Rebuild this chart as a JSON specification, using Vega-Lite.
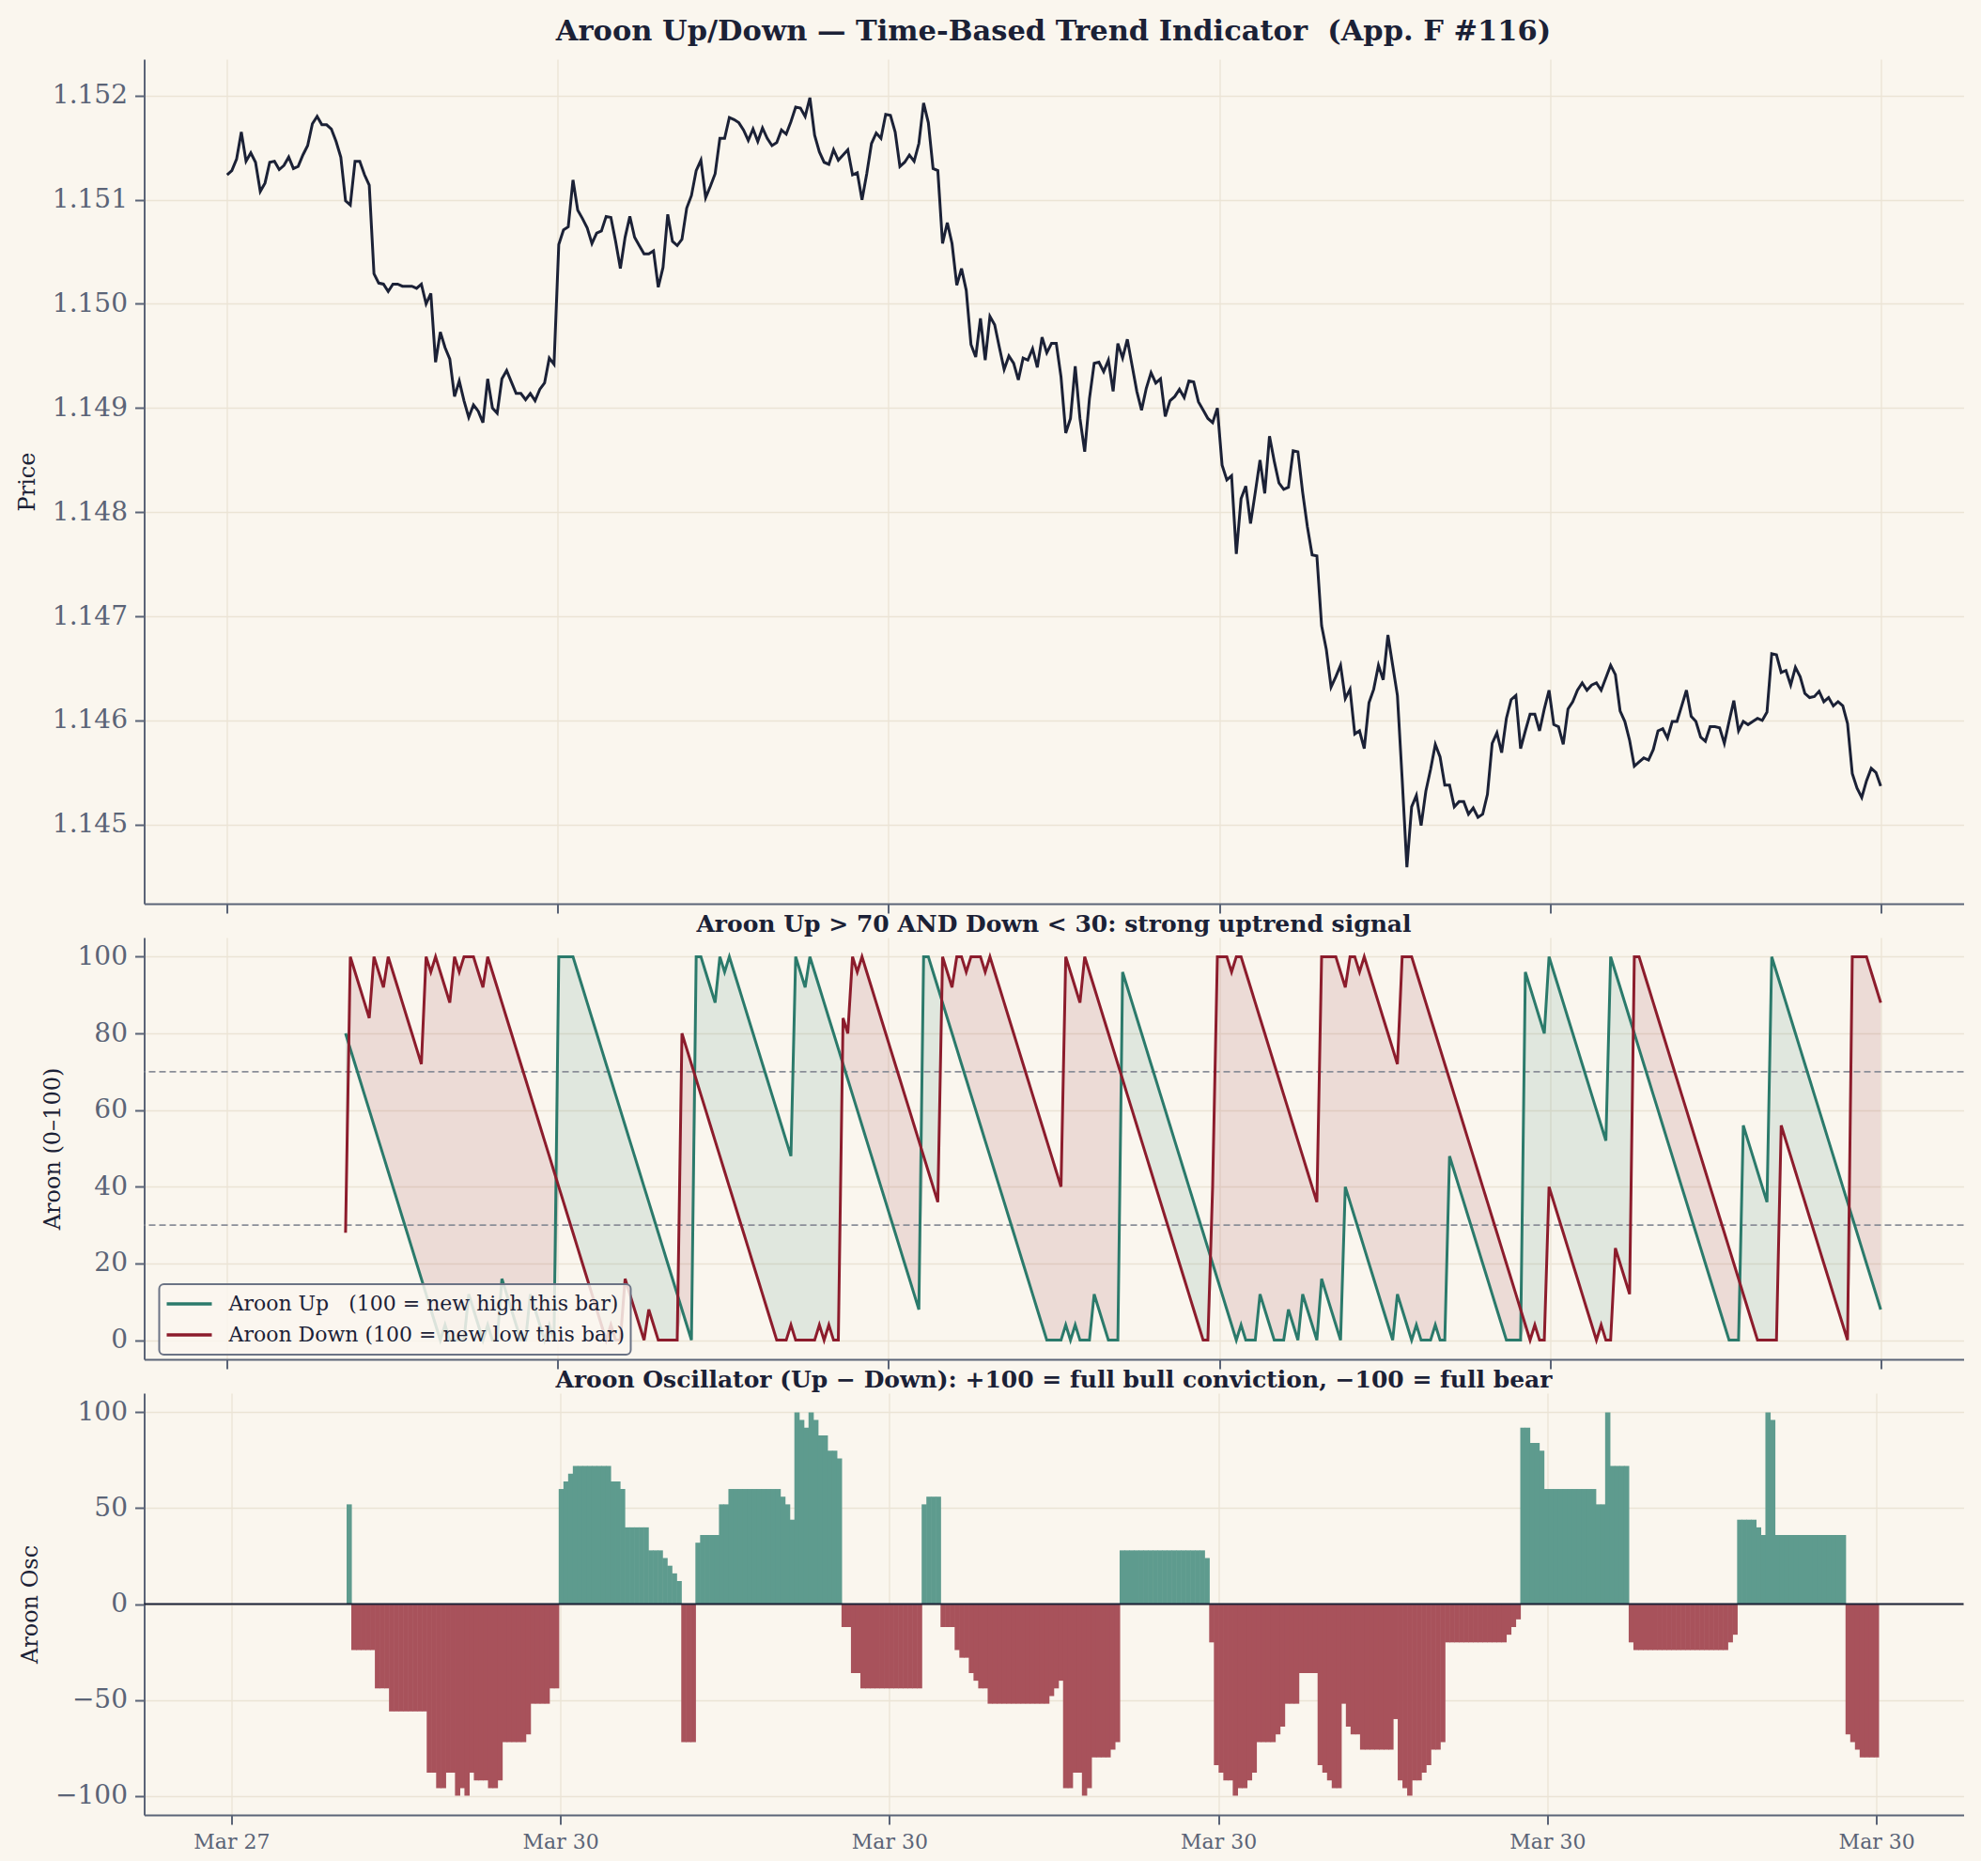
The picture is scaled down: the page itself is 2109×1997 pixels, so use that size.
{
"$schema": "https://vega.github.io/schema/vega-lite/v6.json",
"background": "#faf6ee",
"padding": {"left": 16.5, "right": 19, "top": 18, "bottom": 10},
"title": {"text": "Aroon Up/Down — Time-Based Trend Indicator\u00a0\u00a0(App. F #116)", "font": "DejaVu Serif", "fontSize": 30.5, "fontWeight": "bold", "color": "#1b2136", "anchor": "middle", "offset": 14, "dx": 67},
"config": {
  "font": "DejaVu Serif",
  "view": {"stroke": null},
  "axis": {"domainColor": "#5b6477", "domainWidth": 2, "tickColor": "#5b6477", "tickWidth": 2, "tickSize": 10, "gridColor": "#ebe4d5", "gridWidth": 1.3, "labelColor": "#5b6477", "labelFont": "DejaVu Serif", "titleFont": "DejaVu Serif", "titleColor": "#1b2136", "titleFontWeight": "normal", "titleFontSize": 24},
  "axisY": {"labelFontSize": 28, "labelPadding": 8, "titlePadding": 14},
  "axisX": {"labelFontSize": 22, "labelPadding": 8}
},
"datasets": {"d": [
{"i":0,"p":1.15124},{"i":1,"p":1.15128},{"i":2,"p":1.15139},{"i":3,"p":1.15165},{"i":4,"p":1.15137},{"i":5,"p":1.15145},{"i":6,"p":1.15136},{"i":7,"p":1.15108},{"i":8,"p":1.15116},{"i":9,"p":1.15136},
{"i":10,"p":1.15137},{"i":11,"p":1.15129},{"i":12,"p":1.15133},{"i":13,"p":1.15141},{"i":14,"p":1.15130},{"i":15,"p":1.15132},{"i":16,"p":1.15143},{"i":17,"p":1.15152},{"i":18,"p":1.15173},{"i":19,"p":1.15180},
{"i":20,"p":1.15172},{"i":21,"p":1.15172},{"i":22,"p":1.15168},{"i":23,"p":1.15156},{"i":24,"p":1.15141},
{"i":25,"p":1.15099,"u":80,"d":28,"o":52,"m":28},
{"i":26,"p":1.15095,"u":76,"d":100,"o":-24,"m":76},
{"i":27,"p":1.15137,"u":72,"d":96,"o":-24,"m":72},
{"i":28,"p":1.15137,"u":68,"d":92,"o":-24,"m":68},
{"i":29,"p":1.15124,"u":64,"d":88,"o":-24,"m":64},
{"i":30,"p":1.15114,"u":60,"d":84,"o":-24,"m":60},
{"i":31,"p":1.15029,"u":56,"d":100,"o":-44,"m":56},
{"i":32,"p":1.15020,"u":52,"d":96,"o":-44,"m":52},
{"i":33,"p":1.15019,"u":48,"d":92,"o":-44,"m":48},
{"i":34,"p":1.15012,"u":44,"d":100,"o":-56,"m":44},
{"i":35,"p":1.15019,"u":40,"d":96,"o":-56,"m":40},
{"i":36,"p":1.15019,"u":36,"d":92,"o":-56,"m":36},
{"i":37,"p":1.15017,"u":32,"d":88,"o":-56,"m":32},
{"i":38,"p":1.15017,"u":28,"d":84,"o":-56,"m":28},
{"i":39,"p":1.15017,"u":24,"d":80,"o":-56,"m":24},
{"i":40,"p":1.15015,"u":20,"d":76,"o":-56,"m":20},
{"i":41,"p":1.15019,"u":16,"d":72,"o":-56,"m":16},
{"i":42,"p":1.15000,"u":12,"d":100,"o":-88,"m":12},
{"i":43,"p":1.15010,"u":8,"d":96,"o":-88,"m":8},
{"i":44,"p":1.14944,"u":4,"d":100,"o":-96,"m":4},
{"i":45,"p":1.14973,"u":0,"d":96,"o":-96,"m":0},
{"i":46,"p":1.14958,"u":4,"d":92,"o":-88,"m":4},
{"i":47,"p":1.14947,"u":0,"d":88,"o":-88,"m":0},
{"i":48,"p":1.14911,"u":0,"d":100,"o":-100,"m":0},
{"i":49,"p":1.14926,"u":0,"d":96,"o":-96,"m":0},
{"i":50,"p":1.14907,"u":0,"d":100,"o":-100,"m":0},
{"i":51,"p":1.14891,"u":12,"d":100,"o":-88,"m":12},
{"i":52,"p":1.14903,"u":8,"d":100,"o":-92,"m":8},
{"i":53,"p":1.14897,"u":4,"d":96,"o":-92,"m":4},
{"i":54,"p":1.14886,"u":0,"d":92,"o":-92,"m":0},
{"i":55,"p":1.14928,"u":4,"d":100,"o":-96,"m":4},
{"i":56,"p":1.14900,"u":0,"d":96,"o":-96,"m":0},
{"i":57,"p":1.14895,"u":0,"d":92,"o":-92,"m":0},
{"i":58,"p":1.14928,"u":16,"d":88,"o":-72,"m":16},
{"i":59,"p":1.14936,"u":12,"d":84,"o":-72,"m":12},
{"i":60,"p":1.14925,"u":8,"d":80,"o":-72,"m":8},
{"i":61,"p":1.14914,"u":4,"d":76,"o":-72,"m":4},
{"i":62,"p":1.14914,"u":0,"d":72,"o":-72,"m":0},
{"i":63,"p":1.14908,"u":0,"d":68,"o":-68,"m":0},
{"i":64,"p":1.14914,"u":12,"d":64,"o":-52,"m":12},
{"i":65,"p":1.14907,"u":8,"d":60,"o":-52,"m":8},
{"i":66,"p":1.14918,"u":4,"d":56,"o":-52,"m":4},
{"i":67,"p":1.14924,"u":0,"d":52,"o":-52,"m":0},
{"i":68,"p":1.14948,"u":4,"d":48,"o":-44,"m":4},
{"i":69,"p":1.14942,"u":0,"d":44,"o":-44,"m":0},
{"i":70,"p":1.15057,"u":100,"d":40,"o":60,"m":40},
{"i":71,"p":1.15071,"u":100,"d":36,"o":64,"m":36},
{"i":72,"p":1.15074,"u":100,"d":32,"o":68,"m":32},
{"i":73,"p":1.15119,"u":100,"d":28,"o":72,"m":28},
{"i":74,"p":1.15090,"u":96,"d":24,"o":72,"m":24},
{"i":75,"p":1.15082,"u":92,"d":20,"o":72,"m":20},
{"i":76,"p":1.15073,"u":88,"d":16,"o":72,"m":16},
{"i":77,"p":1.15058,"u":84,"d":12,"o":72,"m":12},
{"i":78,"p":1.15068,"u":80,"d":8,"o":72,"m":8},
{"i":79,"p":1.15070,"u":76,"d":4,"o":72,"m":4},
{"i":80,"p":1.15084,"u":72,"d":0,"o":72,"m":0},
{"i":81,"p":1.15083,"u":68,"d":4,"o":64,"m":4},
{"i":82,"p":1.15060,"u":64,"d":0,"o":64,"m":0},
{"i":83,"p":1.15034,"u":60,"d":0,"o":60,"m":0},
{"i":84,"p":1.15064,"u":56,"d":16,"o":40,"m":16},
{"i":85,"p":1.15084,"u":52,"d":12,"o":40,"m":12},
{"i":86,"p":1.15064,"u":48,"d":8,"o":40,"m":8},
{"i":87,"p":1.15056,"u":44,"d":4,"o":40,"m":4},
{"i":88,"p":1.15048,"u":40,"d":0,"o":40,"m":0},
{"i":89,"p":1.15048,"u":36,"d":8,"o":28,"m":8},
{"i":90,"p":1.15051,"u":32,"d":4,"o":28,"m":4},
{"i":91,"p":1.15016,"u":28,"d":0,"o":28,"m":0},
{"i":92,"p":1.15035,"u":24,"d":0,"o":24,"m":0},
{"i":93,"p":1.15086,"u":20,"d":0,"o":20,"m":0},
{"i":94,"p":1.15060,"u":16,"d":0,"o":16,"m":0},
{"i":95,"p":1.15056,"u":12,"d":0,"o":12,"m":0},
{"i":96,"p":1.15062,"u":8,"d":80,"o":-72,"m":8},
{"i":97,"p":1.15092,"u":4,"d":76,"o":-72,"m":4},
{"i":98,"p":1.15104,"u":0,"d":72,"o":-72,"m":0},
{"i":99,"p":1.15128,"u":100,"d":68,"o":32,"m":68},
{"i":100,"p":1.15138,"u":100,"d":64,"o":36,"m":64},
{"i":101,"p":1.15102,"u":96,"d":60,"o":36,"m":60},
{"i":102,"p":1.15113,"u":92,"d":56,"o":36,"m":56},
{"i":103,"p":1.15125,"u":88,"d":52,"o":36,"m":52},
{"i":104,"p":1.15159,"u":100,"d":48,"o":52,"m":48},
{"i":105,"p":1.15159,"u":96,"d":44,"o":52,"m":44},
{"i":106,"p":1.15179,"u":100,"d":40,"o":60,"m":40},
{"i":107,"p":1.15177,"u":96,"d":36,"o":60,"m":36},
{"i":108,"p":1.15174,"u":92,"d":32,"o":60,"m":32},
{"i":109,"p":1.15167,"u":88,"d":28,"o":60,"m":28},
{"i":110,"p":1.15157,"u":84,"d":24,"o":60,"m":24},
{"i":111,"p":1.15168,"u":80,"d":20,"o":60,"m":20},
{"i":112,"p":1.15156,"u":76,"d":16,"o":60,"m":16},
{"i":113,"p":1.15169,"u":72,"d":12,"o":60,"m":12},
{"i":114,"p":1.15159,"u":68,"d":8,"o":60,"m":8},
{"i":115,"p":1.15152,"u":64,"d":4,"o":60,"m":4},
{"i":116,"p":1.15155,"u":60,"d":0,"o":60,"m":0},
{"i":117,"p":1.15167,"u":56,"d":0,"o":56,"m":0},
{"i":118,"p":1.15163,"u":52,"d":0,"o":52,"m":0},
{"i":119,"p":1.15175,"u":48,"d":4,"o":44,"m":4},
{"i":120,"p":1.15189,"u":100,"d":0,"o":100,"m":0},
{"i":121,"p":1.15188,"u":96,"d":0,"o":96,"m":0},
{"i":122,"p":1.15180,"u":92,"d":0,"o":92,"m":0},
{"i":123,"p":1.15198,"u":100,"d":0,"o":100,"m":0},
{"i":124,"p":1.15162,"u":96,"d":0,"o":96,"m":0},
{"i":125,"p":1.15146,"u":92,"d":4,"o":88,"m":4},
{"i":126,"p":1.15136,"u":88,"d":0,"o":88,"m":0},
{"i":127,"p":1.15134,"u":84,"d":4,"o":80,"m":4},
{"i":128,"p":1.15148,"u":80,"d":0,"o":80,"m":0},
{"i":129,"p":1.15138,"u":76,"d":0,"o":76,"m":0},
{"i":130,"p":1.15143,"u":72,"d":84,"o":-12,"m":72},
{"i":131,"p":1.15148,"u":68,"d":80,"o":-12,"m":68},
{"i":132,"p":1.15124,"u":64,"d":100,"o":-36,"m":64},
{"i":133,"p":1.15126,"u":60,"d":96,"o":-36,"m":60},
{"i":134,"p":1.15100,"u":56,"d":100,"o":-44,"m":56},
{"i":135,"p":1.15125,"u":52,"d":96,"o":-44,"m":52},
{"i":136,"p":1.15154,"u":48,"d":92,"o":-44,"m":48},
{"i":137,"p":1.15164,"u":44,"d":88,"o":-44,"m":44},
{"i":138,"p":1.15159,"u":40,"d":84,"o":-44,"m":40},
{"i":139,"p":1.15182,"u":36,"d":80,"o":-44,"m":36},
{"i":140,"p":1.15181,"u":32,"d":76,"o":-44,"m":32},
{"i":141,"p":1.15165,"u":28,"d":72,"o":-44,"m":28},
{"i":142,"p":1.15132,"u":24,"d":68,"o":-44,"m":24},
{"i":143,"p":1.15136,"u":20,"d":64,"o":-44,"m":20},
{"i":144,"p":1.15143,"u":16,"d":60,"o":-44,"m":16},
{"i":145,"p":1.15137,"u":12,"d":56,"o":-44,"m":12},
{"i":146,"p":1.15154,"u":8,"d":52,"o":-44,"m":8},
{"i":147,"p":1.15193,"u":100,"d":48,"o":52,"m":48},
{"i":148,"p":1.15174,"u":100,"d":44,"o":56,"m":44},
{"i":149,"p":1.15130,"u":96,"d":40,"o":56,"m":40},
{"i":150,"p":1.15128,"u":92,"d":36,"o":56,"m":36},
{"i":151,"p":1.15058,"u":88,"d":100,"o":-12,"m":88},
{"i":152,"p":1.15078,"u":84,"d":96,"o":-12,"m":84},
{"i":153,"p":1.15058,"u":80,"d":92,"o":-12,"m":80},
{"i":154,"p":1.15018,"u":76,"d":100,"o":-24,"m":76},
{"i":155,"p":1.15034,"u":72,"d":100,"o":-28,"m":72},
{"i":156,"p":1.15013,"u":68,"d":96,"o":-28,"m":68},
{"i":157,"p":1.14961,"u":64,"d":100,"o":-36,"m":64},
{"i":158,"p":1.14949,"u":60,"d":100,"o":-40,"m":60},
{"i":159,"p":1.14986,"u":56,"d":100,"o":-44,"m":56},
{"i":160,"p":1.14946,"u":52,"d":96,"o":-44,"m":52},
{"i":161,"p":1.14988,"u":48,"d":100,"o":-52,"m":48},
{"i":162,"p":1.14980,"u":44,"d":96,"o":-52,"m":44},
{"i":163,"p":1.14958,"u":40,"d":92,"o":-52,"m":40},
{"i":164,"p":1.14937,"u":36,"d":88,"o":-52,"m":36},
{"i":165,"p":1.14950,"u":32,"d":84,"o":-52,"m":32},
{"i":166,"p":1.14943,"u":28,"d":80,"o":-52,"m":28},
{"i":167,"p":1.14927,"u":24,"d":76,"o":-52,"m":24},
{"i":168,"p":1.14948,"u":20,"d":72,"o":-52,"m":20},
{"i":169,"p":1.14946,"u":16,"d":68,"o":-52,"m":16},
{"i":170,"p":1.14957,"u":12,"d":64,"o":-52,"m":12},
{"i":171,"p":1.14939,"u":8,"d":60,"o":-52,"m":8},
{"i":172,"p":1.14968,"u":4,"d":56,"o":-52,"m":4},
{"i":173,"p":1.14953,"u":0,"d":52,"o":-52,"m":0},
{"i":174,"p":1.14962,"u":0,"d":48,"o":-48,"m":0},
{"i":175,"p":1.14962,"u":0,"d":44,"o":-44,"m":0},
{"i":176,"p":1.14930,"u":0,"d":40,"o":-40,"m":0},
{"i":177,"p":1.14876,"u":4,"d":100,"o":-96,"m":4},
{"i":178,"p":1.14890,"u":0,"d":96,"o":-96,"m":0},
{"i":179,"p":1.14940,"u":4,"d":92,"o":-88,"m":4},
{"i":180,"p":1.14890,"u":0,"d":88,"o":-88,"m":0},
{"i":181,"p":1.14858,"u":0,"d":100,"o":-100,"m":0},
{"i":182,"p":1.14909,"u":0,"d":96,"o":-96,"m":0},
{"i":183,"p":1.14943,"u":12,"d":92,"o":-80,"m":12},
{"i":184,"p":1.14944,"u":8,"d":88,"o":-80,"m":8},
{"i":185,"p":1.14935,"u":4,"d":84,"o":-80,"m":4},
{"i":186,"p":1.14946,"u":0,"d":80,"o":-80,"m":0},
{"i":187,"p":1.14916,"u":0,"d":76,"o":-76,"m":0},
{"i":188,"p":1.14962,"u":0,"d":72,"o":-72,"m":0},
{"i":189,"p":1.14948,"u":96,"d":68,"o":28,"m":68},
{"i":190,"p":1.14966,"u":92,"d":64,"o":28,"m":64},
{"i":191,"p":1.14941,"u":88,"d":60,"o":28,"m":60},
{"i":192,"p":1.14916,"u":84,"d":56,"o":28,"m":56},
{"i":193,"p":1.14898,"u":80,"d":52,"o":28,"m":52},
{"i":194,"p":1.14919,"u":76,"d":48,"o":28,"m":48},
{"i":195,"p":1.14934,"u":72,"d":44,"o":28,"m":44},
{"i":196,"p":1.14924,"u":68,"d":40,"o":28,"m":40},
{"i":197,"p":1.14928,"u":64,"d":36,"o":28,"m":36},
{"i":198,"p":1.14892,"u":60,"d":32,"o":28,"m":32},
{"i":199,"p":1.14907,"u":56,"d":28,"o":28,"m":28},
{"i":200,"p":1.14911,"u":52,"d":24,"o":28,"m":24},
{"i":201,"p":1.14918,"u":48,"d":20,"o":28,"m":20},
{"i":202,"p":1.14910,"u":44,"d":16,"o":28,"m":16},
{"i":203,"p":1.14926,"u":40,"d":12,"o":28,"m":12},
{"i":204,"p":1.14925,"u":36,"d":8,"o":28,"m":8},
{"i":205,"p":1.14906,"u":32,"d":4,"o":28,"m":4},
{"i":206,"p":1.14898,"u":28,"d":0,"o":28,"m":0},
{"i":207,"p":1.14890,"u":24,"d":0,"o":24,"m":0},
{"i":208,"p":1.14886,"u":20,"d":40,"o":-20,"m":20},
{"i":209,"p":1.14900,"u":16,"d":100,"o":-84,"m":16},
{"i":210,"p":1.14845,"u":12,"d":100,"o":-88,"m":12},
{"i":211,"p":1.14831,"u":8,"d":100,"o":-92,"m":8},
{"i":212,"p":1.14835,"u":4,"d":96,"o":-92,"m":4},
{"i":213,"p":1.14760,"u":0,"d":100,"o":-100,"m":0},
{"i":214,"p":1.14813,"u":4,"d":100,"o":-96,"m":4},
{"i":215,"p":1.14825,"u":0,"d":96,"o":-96,"m":0},
{"i":216,"p":1.14789,"u":0,"d":92,"o":-92,"m":0},
{"i":217,"p":1.14819,"u":0,"d":88,"o":-88,"m":0},
{"i":218,"p":1.14850,"u":12,"d":84,"o":-72,"m":12},
{"i":219,"p":1.14818,"u":8,"d":80,"o":-72,"m":8},
{"i":220,"p":1.14873,"u":4,"d":76,"o":-72,"m":4},
{"i":221,"p":1.14849,"u":0,"d":72,"o":-72,"m":0},
{"i":222,"p":1.14828,"u":0,"d":68,"o":-68,"m":0},
{"i":223,"p":1.14822,"u":0,"d":64,"o":-64,"m":0},
{"i":224,"p":1.14824,"u":8,"d":60,"o":-52,"m":8},
{"i":225,"p":1.14859,"u":4,"d":56,"o":-52,"m":4},
{"i":226,"p":1.14858,"u":0,"d":52,"o":-52,"m":0},
{"i":227,"p":1.14819,"u":12,"d":48,"o":-36,"m":12},
{"i":228,"p":1.14786,"u":8,"d":44,"o":-36,"m":8},
{"i":229,"p":1.14759,"u":4,"d":40,"o":-36,"m":4},
{"i":230,"p":1.14758,"u":0,"d":36,"o":-36,"m":0},
{"i":231,"p":1.14691,"u":16,"d":100,"o":-84,"m":16},
{"i":232,"p":1.14668,"u":12,"d":100,"o":-88,"m":12},
{"i":233,"p":1.14632,"u":8,"d":100,"o":-92,"m":8},
{"i":234,"p":1.14642,"u":4,"d":100,"o":-96,"m":4},
{"i":235,"p":1.14653,"u":0,"d":96,"o":-96,"m":0},
{"i":236,"p":1.14621,"u":40,"d":92,"o":-52,"m":40},
{"i":237,"p":1.14630,"u":36,"d":100,"o":-64,"m":36},
{"i":238,"p":1.14587,"u":32,"d":100,"o":-68,"m":32},
{"i":239,"p":1.14590,"u":28,"d":96,"o":-68,"m":28},
{"i":240,"p":1.14573,"u":24,"d":100,"o":-76,"m":24},
{"i":241,"p":1.14617,"u":20,"d":96,"o":-76,"m":20},
{"i":242,"p":1.14630,"u":16,"d":92,"o":-76,"m":16},
{"i":243,"p":1.14653,"u":12,"d":88,"o":-76,"m":12},
{"i":244,"p":1.14639,"u":8,"d":84,"o":-76,"m":8},
{"i":245,"p":1.14682,"u":4,"d":80,"o":-76,"m":4},
{"i":246,"p":1.14653,"u":0,"d":76,"o":-76,"m":0},
{"i":247,"p":1.14624,"u":12,"d":72,"o":-60,"m":12},
{"i":248,"p":1.14544,"u":8,"d":100,"o":-92,"m":8},
{"i":249,"p":1.14459,"u":4,"d":100,"o":-96,"m":4},
{"i":250,"p":1.14517,"u":0,"d":100,"o":-100,"m":0},
{"i":251,"p":1.14528,"u":4,"d":96,"o":-92,"m":4},
{"i":252,"p":1.14499,"u":0,"d":92,"o":-92,"m":0},
{"i":253,"p":1.14532,"u":0,"d":88,"o":-88,"m":0},
{"i":254,"p":1.14553,"u":0,"d":84,"o":-84,"m":0},
{"i":255,"p":1.14577,"u":4,"d":80,"o":-76,"m":4},
{"i":256,"p":1.14565,"u":0,"d":76,"o":-76,"m":0},
{"i":257,"p":1.14538,"u":0,"d":72,"o":-72,"m":0},
{"i":258,"p":1.14538,"u":48,"d":68,"o":-20,"m":48},
{"i":259,"p":1.14517,"u":44,"d":64,"o":-20,"m":44},
{"i":260,"p":1.14522,"u":40,"d":60,"o":-20,"m":40},
{"i":261,"p":1.14522,"u":36,"d":56,"o":-20,"m":36},
{"i":262,"p":1.14510,"u":32,"d":52,"o":-20,"m":32},
{"i":263,"p":1.14516,"u":28,"d":48,"o":-20,"m":28},
{"i":264,"p":1.14507,"u":24,"d":44,"o":-20,"m":24},
{"i":265,"p":1.14510,"u":20,"d":40,"o":-20,"m":20},
{"i":266,"p":1.14529,"u":16,"d":36,"o":-20,"m":16},
{"i":267,"p":1.14578,"u":12,"d":32,"o":-20,"m":12},
{"i":268,"p":1.14588,"u":8,"d":28,"o":-20,"m":8},
{"i":269,"p":1.14569,"u":4,"d":24,"o":-20,"m":4},
{"i":270,"p":1.14602,"u":0,"d":20,"o":-20,"m":0},
{"i":271,"p":1.14620,"u":0,"d":16,"o":-16,"m":0},
{"i":272,"p":1.14624,"u":0,"d":12,"o":-12,"m":0},
{"i":273,"p":1.14573,"u":0,"d":8,"o":-8,"m":0},
{"i":274,"p":1.14590,"u":96,"d":4,"o":92,"m":4},
{"i":275,"p":1.14606,"u":92,"d":0,"o":92,"m":0},
{"i":276,"p":1.14606,"u":88,"d":4,"o":84,"m":4},
{"i":277,"p":1.14590,"u":84,"d":0,"o":84,"m":0},
{"i":278,"p":1.14611,"u":80,"d":0,"o":80,"m":0},
{"i":279,"p":1.14629,"u":100,"d":40,"o":60,"m":40},
{"i":280,"p":1.14596,"u":96,"d":36,"o":60,"m":36},
{"i":281,"p":1.14594,"u":92,"d":32,"o":60,"m":32},
{"i":282,"p":1.14577,"u":88,"d":28,"o":60,"m":28},
{"i":283,"p":1.14611,"u":84,"d":24,"o":60,"m":24},
{"i":284,"p":1.14618,"u":80,"d":20,"o":60,"m":20},
{"i":285,"p":1.14629,"u":76,"d":16,"o":60,"m":16},
{"i":286,"p":1.14636,"u":72,"d":12,"o":60,"m":12},
{"i":287,"p":1.14629,"u":68,"d":8,"o":60,"m":8},
{"i":288,"p":1.14634,"u":64,"d":4,"o":60,"m":4},
{"i":289,"p":1.14636,"u":60,"d":0,"o":60,"m":0},
{"i":290,"p":1.14629,"u":56,"d":4,"o":52,"m":4},
{"i":291,"p":1.14641,"u":52,"d":0,"o":52,"m":0},
{"i":292,"p":1.14653,"u":100,"d":0,"o":100,"m":0},
{"i":293,"p":1.14644,"u":96,"d":24,"o":72,"m":24},
{"i":294,"p":1.14609,"u":92,"d":20,"o":72,"m":20},
{"i":295,"p":1.14599,"u":88,"d":16,"o":72,"m":16},
{"i":296,"p":1.14581,"u":84,"d":12,"o":72,"m":12},
{"i":297,"p":1.14556,"u":80,"d":100,"o":-20,"m":80},
{"i":298,"p":1.14560,"u":76,"d":100,"o":-24,"m":76},
{"i":299,"p":1.14564,"u":72,"d":96,"o":-24,"m":72},
{"i":300,"p":1.14562,"u":68,"d":92,"o":-24,"m":68},
{"i":301,"p":1.14572,"u":64,"d":88,"o":-24,"m":64},
{"i":302,"p":1.14590,"u":60,"d":84,"o":-24,"m":60},
{"i":303,"p":1.14592,"u":56,"d":80,"o":-24,"m":56},
{"i":304,"p":1.14583,"u":52,"d":76,"o":-24,"m":52},
{"i":305,"p":1.14599,"u":48,"d":72,"o":-24,"m":48},
{"i":306,"p":1.14599,"u":44,"d":68,"o":-24,"m":44},
{"i":307,"p":1.14614,"u":40,"d":64,"o":-24,"m":40},
{"i":308,"p":1.14629,"u":36,"d":60,"o":-24,"m":36},
{"i":309,"p":1.14604,"u":32,"d":56,"o":-24,"m":32},
{"i":310,"p":1.14599,"u":28,"d":52,"o":-24,"m":28},
{"i":311,"p":1.14584,"u":24,"d":48,"o":-24,"m":24},
{"i":312,"p":1.14580,"u":20,"d":44,"o":-24,"m":20},
{"i":313,"p":1.14594,"u":16,"d":40,"o":-24,"m":16},
{"i":314,"p":1.14594,"u":12,"d":36,"o":-24,"m":12},
{"i":315,"p":1.14593,"u":8,"d":32,"o":-24,"m":8},
{"i":316,"p":1.14578,"u":4,"d":28,"o":-24,"m":4},
{"i":317,"p":1.14599,"u":0,"d":24,"o":-24,"m":0},
{"i":318,"p":1.14619,"u":0,"d":20,"o":-20,"m":0},
{"i":319,"p":1.14590,"u":0,"d":16,"o":-16,"m":0},
{"i":320,"p":1.14599,"u":56,"d":12,"o":44,"m":12},
{"i":321,"p":1.14596,"u":52,"d":8,"o":44,"m":8},
{"i":322,"p":1.14599,"u":48,"d":4,"o":44,"m":4},
{"i":323,"p":1.14602,"u":44,"d":0,"o":44,"m":0},
{"i":324,"p":1.14600,"u":40,"d":0,"o":40,"m":0},
{"i":325,"p":1.14608,"u":36,"d":0,"o":36,"m":0},
{"i":326,"p":1.14664,"u":100,"d":0,"o":100,"m":0},
{"i":327,"p":1.14663,"u":96,"d":0,"o":96,"m":0},
{"i":328,"p":1.14646,"u":92,"d":56,"o":36,"m":56},
{"i":329,"p":1.14648,"u":88,"d":52,"o":36,"m":52},
{"i":330,"p":1.14634,"u":84,"d":48,"o":36,"m":48},
{"i":331,"p":1.14651,"u":80,"d":44,"o":36,"m":44},
{"i":332,"p":1.14642,"u":76,"d":40,"o":36,"m":40},
{"i":333,"p":1.14626,"u":72,"d":36,"o":36,"m":36},
{"i":334,"p":1.14622,"u":68,"d":32,"o":36,"m":32},
{"i":335,"p":1.14623,"u":64,"d":28,"o":36,"m":28},
{"i":336,"p":1.14628,"u":60,"d":24,"o":36,"m":24},
{"i":337,"p":1.14618,"u":56,"d":20,"o":36,"m":20},
{"i":338,"p":1.14622,"u":52,"d":16,"o":36,"m":16},
{"i":339,"p":1.14614,"u":48,"d":12,"o":36,"m":12},
{"i":340,"p":1.14618,"u":44,"d":8,"o":36,"m":8},
{"i":341,"p":1.14614,"u":40,"d":4,"o":36,"m":4},
{"i":342,"p":1.14597,"u":36,"d":0,"o":36,"m":0},
{"i":343,"p":1.14549,"u":32,"d":100,"o":-68,"m":32},
{"i":344,"p":1.14535,"u":28,"d":100,"o":-72,"m":28},
{"i":345,"p":1.14526,"u":24,"d":100,"o":-76,"m":24},
{"i":346,"p":1.14542,"u":20,"d":100,"o":-80,"m":20},
{"i":347,"p":1.14554,"u":16,"d":96,"o":-80,"m":16},
{"i":348,"p":1.14550,"u":12,"d":92,"o":-80,"m":12},
{"i":349,"p":1.14537,"u":8,"d":88,"o":-80,"m":8}
]},
"spacing": 36,
"bounds": "flush",
"resolve": {"scale": {"x": "independent", "y": "independent", "color": "independent"}},
"vconcat": [
{
  "width": 1937, "height": 899,
  "data": {"name": "d"},
  "mark": {"type": "line", "color": "#1b2136", "strokeWidth": 3},
  "encoding": {
    "x": {"field": "i", "type": "quantitative", "scale": {"domain": [-17.5, 366.5], "nice": false, "zero": false}, "axis": {"values": [0, 69.8, 139.6, 209.4, 279.2, 349], "labels": false, "title": null}},
    "y": {"field": "p", "type": "quantitative", "scale": {"domain": [1.14424, 1.15235], "nice": false, "zero": false}, "axis": {"values": [1.145, 1.146, 1.147, 1.148, 1.149, 1.15, 1.151, 1.152], "format": ".3f", "title": "Price"}}
  }
},
{
  "width": 1937, "height": 449,
  "title": {"text": "Aroon Up > 70 AND Down < 30: strong uptrend signal", "fontSize": 25, "fontWeight": "bold", "color": "#1b2136", "anchor": "middle", "offset": 1, "font": "DejaVu Serif"},
  "data": {"name": "d"},
  "layer": [
    {"mark": {"type": "area", "color": "#2b7a6b", "opacity": 0.12}, "encoding": {
      "x": {"field": "i", "type": "quantitative", "scale": {"domain": [-17.5, 366.5], "nice": false, "zero": false}, "axis": {"values": [0, 69.8, 139.6, 209.4, 279.2, 349], "labels": false, "title": null}},
      "y": {"field": "u", "type": "quantitative", "scale": {"domain": [-5, 105], "nice": false}, "axis": {"values": [0, 20, 40, 60, 80, 100], "title": "Aroon (0–100)"}}, "y2": {"field": "m"}}},
    {"mark": {"type": "area", "color": "#8c1c2c", "opacity": 0.12}, "encoding": {"x": {"field": "i", "type": "quantitative"}, "y": {"field": "d", "type": "quantitative"}, "y2": {"field": "m"}}},
    {"data": {"values": [{"t": 70}, {"t": 30}]}, "mark": {"type": "rule", "color": "#8a8e98", "strokeDash": [7, 4], "strokeWidth": 1.6}, "encoding": {"y": {"field": "t", "type": "quantitative"}}},
    {"mark": {"type": "line", "strokeWidth": 3}, "encoding": {"x": {"field": "i", "type": "quantitative"}, "y": {"field": "u", "type": "quantitative"}, "color": {"datum": "Aroon Up\u00a0\u00a0\u00a0(100 = new high this bar)", "scale": {"domain": ["Aroon Up\u00a0\u00a0\u00a0(100 = new high this bar)", "Aroon Down (100 = new low this bar)"], "range": ["#2b7a6b", "#8c1c2c"]}, "legend": {"orient": "none", "legendX": 16, "legendY": 369, "title": null, "symbolType": "stroke", "symbolStrokeWidth": 3.5, "symbolSize": 2304, "clipHeight": 30, "labelFontSize": 22, "labelColor": "#1b2136", "labelFont": "DejaVu Serif", "fillColor": "rgba(250,246,238,0.85)", "strokeColor": "#6b7385", "padding": 6, "cornerRadius": 5, "rowPadding": 3, "labelOffset": 16, "labelLimit": 600, "encode": {"legend": {"update": {"strokeWidth": {"value": 2}}}}}}}},
    {"mark": {"type": "line", "strokeWidth": 3}, "encoding": {"x": {"field": "i", "type": "quantitative"}, "y": {"field": "d", "type": "quantitative"}, "color": {"datum": "Aroon Down (100 = new low this bar)"}}}
  ]
},
{
  "width": 1937, "height": 449,
  "title": {"text": "Aroon Oscillator (Up − Down): +100 = full bull conviction, −100 = full bear", "fontSize": 25, "fontWeight": "bold", "color": "#1b2136", "anchor": "middle", "offset": 1, "font": "DejaVu Serif"},
  "data": {"name": "d"},
  "layer": [
    {"mark": {"type": "bar", "width": 5.6}, "encoding": {
      "x": {"field": "i", "type": "quantitative", "scale": {"domain": [-17.5, 366.5], "nice": false, "zero": false}, "axis": {"values": [0, 69.8, 139.6, 209.4, 279.2, 349], "labelExpr": "datum.value < 1 ? 'Mar 27' : 'Mar 30'", "title": null}},
      "y": {"field": "o", "type": "quantitative", "scale": {"domain": [-110, 110], "nice": false}, "axis": {"values": [-100, -50, 0, 50, 100], "labelExpr": "replace(datum.label, '-', '−')", "title": "Aroon Osc"}},
      "color": {"condition": {"test": "datum.o >= 0", "value": "#5e9b8e"}, "value": "#a8525b"}}},
    {"data": {"values": [{"t": 0}]}, "mark": {"type": "rule", "color": "#1b2136", "strokeWidth": 2.2}, "encoding": {"y": {"field": "t", "type": "quantitative"}}}
  ]
}
]
}
